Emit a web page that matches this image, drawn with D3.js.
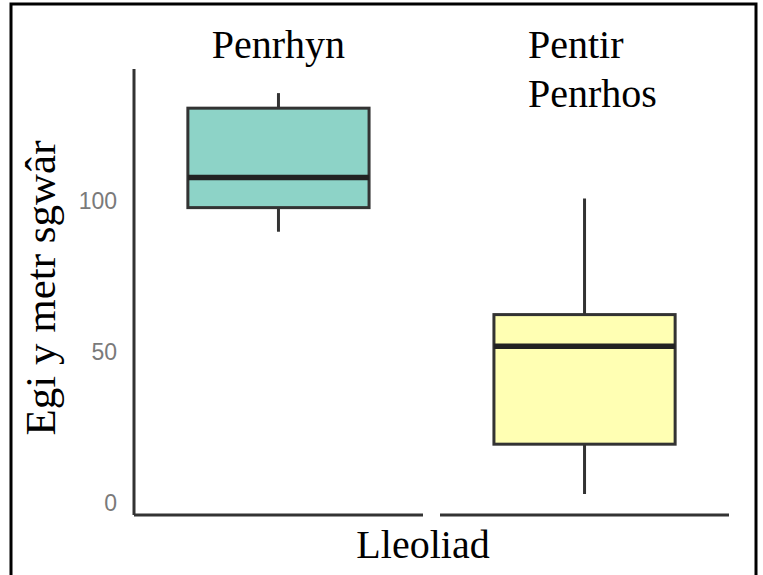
<!DOCTYPE html>
<html>
<head>
<meta charset="utf-8">
<script src="https://cdn.jsdelivr.net/npm/d3@7"></script>
<style>
  body { margin: 0; background: #fff; }
</style>
</head>
<body>
<div id="chart"></div>
<script>
// data
const categories = ["Penrhyn", "Pentir Penrhos"]
const whiskerLow = [90, 3]
const q1 = [98, 19.5]
const median = [108, 52]
const q3 = [131, 62.5]
const whiskerHigh = [136, 101]
const colors = ["#8dd3c7", "#ffffb3"]
const yTicks = [0, 50, 100]

const data = categories.map((c, i) => ({
    cat: c, lo: whiskerLow[i], q1: q1[i], med: median[i], q3: q3[i], hi: whiskerHigh[i], color: colors[i]
}))

const W = 763, H = 575

const svg = d3.select("#chart").append("svg")
    .attr("width", W)
    .attr("height", H)

// frame round the picture
svg.append("rect")
    .attr("x", 11).attr("y", 4)
    .attr("width", 745).attr("height", 600)
    .style("fill", "none")
    .style("stroke", "#000")
    .style("stroke-width", 3)

const x = d3.scaleBand()
    .domain(categories)
    .range([134, 729])
    .paddingInner(0.408)
    .paddingOuter(0.176)

const y = d3.scaleLinear()
    .domain([-4, 144])
    .range([515, 69])

const dark = "#333"

// whiskers
svg.selectAll(".whisker")
    .data(data)
    .enter()
    .append("line")
    .attr("class", "whisker")
    .attr("x1", d => x(d.cat) + x.bandwidth() / 2)
    .attr("x2", d => x(d.cat) + x.bandwidth() / 2)
    .attr("y1", d => y(d.lo))
    .attr("y2", d => y(d.hi))
    .style("stroke", dark)
    .style("stroke-width", 3)

// boxes
svg.selectAll(".box")
    .data(data)
    .enter()
    .append("rect")
    .attr("class", "box")
    .attr("x", d => x(d.cat))
    .attr("y", d => y(d.q3))
    .attr("width", x.bandwidth())
    .attr("height", d => y(d.q1) - y(d.q3))
    .style("fill", d => d.color)
    .style("stroke", dark)
    .style("stroke-width", 3)

// medians
svg.selectAll(".median")
    .data(data)
    .enter()
    .append("line")
    .attr("class", "median")
    .attr("x1", d => x(d.cat))
    .attr("x2", d => x(d.cat) + x.bandwidth())
    .attr("y1", d => y(d.med))
    .attr("y2", d => y(d.med))
    .style("stroke", "#222")
    .style("stroke-width", 5.5)

// y axis, no ticks, grey labels
const yAxis = d3.axisLeft(y)
    .tickValues(yTicks)
    .tickSize(0)
    .tickPadding(17)

svg.append("g")
    .attr("class", "y-axis")
    .attr("transform", "translate(134,0)")
    .call(yAxis)
    .call(g => g.select(".domain").remove())
    .selectAll("text")
    .style("font-family", "'Liberation Sans', Arial, sans-serif")
    .style("font-size", "23px")
    .style("fill", "#7a7a7a")

// axis lines (the x line is broken in two)
svg.append("line")
    .attr("x1", 134).attr("x2", 134)
    .attr("y1", y(144)).attr("y2", y(-4))
    .style("stroke", dark).style("stroke-width", 3)

svg.append("line")
    .attr("x1", 134).attr("x2", 423)
    .attr("y1", y(-4)).attr("y2", y(-4))
    .style("stroke", dark).style("stroke-width", 3)

svg.append("line")
    .attr("x1", 440).attr("x2", 729)
    .attr("y1", y(-4)).attr("y2", y(-4))
    .style("stroke", dark).style("stroke-width", 3)

// category labels on top
const serif = "'Liberation Serif', 'Times New Roman', serif"

svg.append("text")
    .text(categories[0])
    .attr("x", x(categories[0]) + x.bandwidth() / 2)
    .attr("y", 58)
    .style("text-anchor", "middle")
    .style("font-family", serif)
    .style("font-size", "40px")

const lab2 = svg.append("text")
    .attr("y", 58)
    .style("font-family", serif)
    .style("font-size", "40px")

categories[1].split(" ").forEach((w, i) => {
    lab2.append("tspan")
        .attr("x", x(categories[1]) + 34)
        .attr("dy", i == 0 ? 0 : 49)
        .text(w)
})

// axis titles
svg.append("text")
    .text("Lleoliad")
    .attr("x", 423)
    .attr("y", 558)
    .style("text-anchor", "middle")
    .style("font-family", serif)
    .style("font-size", "40px")

svg.append("text")
    .text("Egi y metr sgwâr")
    .attr("transform", "translate(55,288) rotate(-90)")
    .style("text-anchor", "middle")
    .style("font-family", serif)
    .style("font-size", "43px")
</script>
</body>
</html>
